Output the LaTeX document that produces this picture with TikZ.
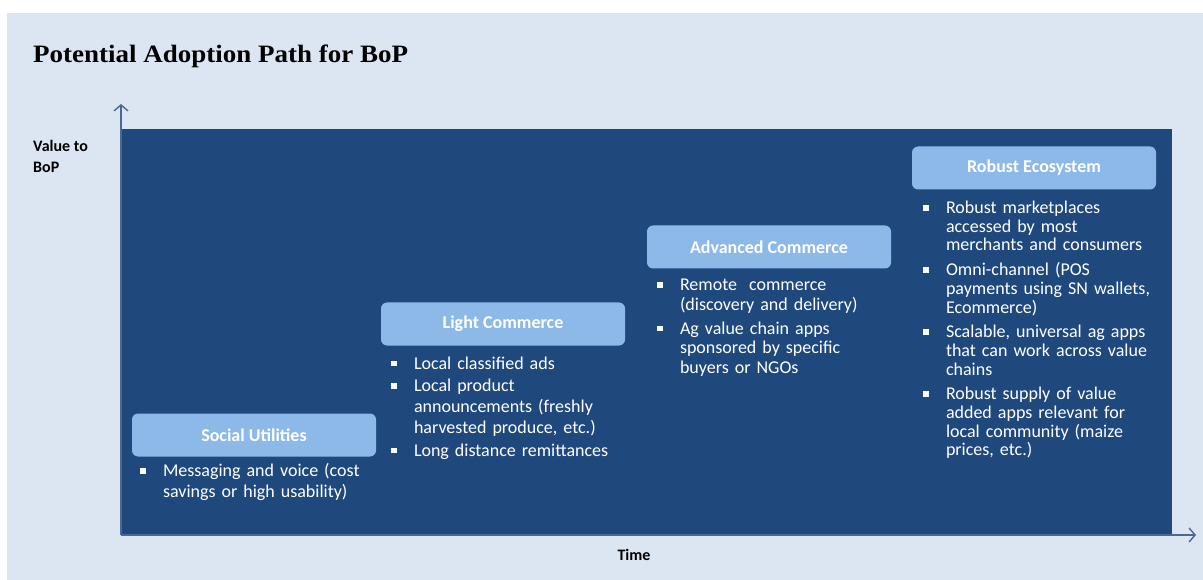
\documentclass[tikz,border=0pt]{standalone}
\usepackage{fontspec}
\setmainfont{Carlito}
\newfontfamily\titlefont[FakeStretch=1.08]{Liberation Serif}
\usetikzlibrary{arrows.meta}

\definecolor{panelbg}{HTML}{DCE6F2}
\definecolor{areablue}{HTML}{1F497D}
\definecolor{stagefill}{HTML}{8DB9E9}
\definecolor{axiscol}{HTML}{4A6890}

% one bullet point, with hanging indent
\newcommand{\bitem}[1]{\par\noindent\hangindent=23pt\hangafter=1%
  \makebox[23pt][l]{\raisebox{3pt}{\rule{5.5pt}{5.5pt}}}#1\par}

\begin{document}
\begin{tikzpicture}
  [x=1pt,y=-1pt,
   stage/.style={rectangle, rounded corners=6pt, fill=stagefill, text=white,
     font=\bfseries\fontsize{18}{21}\selectfont, minimum width=244pt, minimum height=43pt},
   bullets/.style 2 args={anchor=north west, inner sep=0pt, text=white, text width=250pt,
     align=left, font=\fontsize{18}{#1}\selectfont,
     execute at begin node={\setlength{\parskip}{#2}}},
   axis/.style={draw=axiscol, line width=1.4pt, -{Straight Barb[length=6pt,width=14pt]}},
   label/.style={inner sep=0pt, font=\bfseries\fontsize{16}{21}\selectfont}]

  \useasboundingbox (0,0) rectangle (1203,580);
  \fill[panelbg] (7,13) rectangle (1203,580);
  \fill[areablue] (121,129) rectangle (1172,535);

  \node[label, anchor=base west, font=\titlefont\bfseries\fontsize{25}{29}\selectfont]
    (title) at (33,63) {Potential Adoption Path for BoP};
  \node[label, anchor=north west, align=left] (vlab) at (33,140) {Value to\\BoP};
  \node[label, anchor=base] (tlab) at (634,560) {Time};

  \coordinate (o) at (121,535);
  \coordinate (ytip) at (121,104);
  \coordinate (xtip) at (1196,535);
  \foreach \tip in {ytip,xtip}
    \draw[axis] (o) -- (\tip);

  \node[stage] (soc) at (254,435) {Social Utilities};
  \node[stage] (light) at (503,324) {Light Commerce};
  \node[stage] (adv) at (769,247) {Advanced Commerce};
  \node[stage] (rob) at (1034,168) {Robust Ecosystem};

  \node[bullets={21}{1pt}] (socl) at ([xshift=8pt,yshift=2pt]soc.south west)
    {\bitem{Messaging and voice (cost\newline savings or high usability)}};
  \node[bullets={21}{1.5pt}] (lightl) at ([xshift=10pt,yshift=-1pt]light.south west)
    {\bitem{Local classified ads}
     \bitem{Local product\newline announcements (freshly\newline harvested produce, etc.)}
     \bitem{Long distance remittances}};
  \node[bullets={19.5}{4.5pt}] (advl) at ([xshift=10pt,yshift=2pt]adv.south west)
    {\bitem{Remote\ \ commerce\newline (discovery and delivery)}
     \bitem{Ag value chain apps\newline sponsored by specific\newline buyers or NGOs}};
  \node[bullets={18.7}{6pt}] (robl) at ([xshift=11pt,yshift=1pt]rob.south west)
    {\bitem{Robust marketplaces\newline accessed by most\newline merchants and consumers}
     \bitem{Omni-channel (POS\newline payments using SN wallets,\newline Ecommerce)}
     \bitem{Scalable, universal ag apps\newline that can work across value\newline chains}
     \bitem{Robust supply of value\newline added apps relevant for\newline local community (maize\newline prices, etc.)}};

\end{tikzpicture}
\end{document}
